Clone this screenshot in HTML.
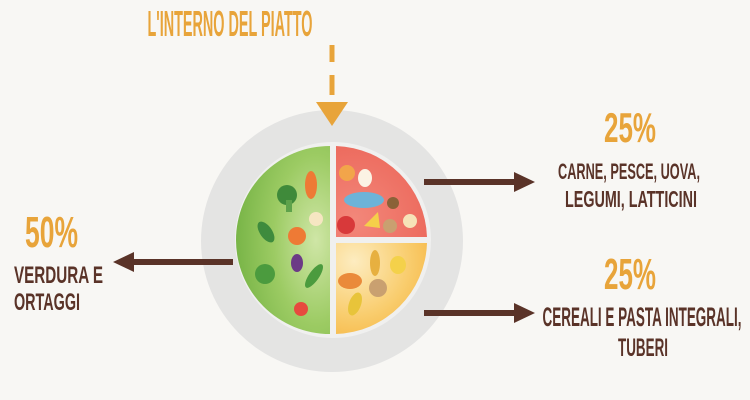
<!DOCTYPE html>
<html><head><meta charset="utf-8"><style>
html,body{margin:0;padding:0;background:#f8f7f4;}
svg{display:block}
text{font-family:"Liberation Sans Narrow","Liberation Sans",sans-serif;font-weight:bold;}
</style></head><body>
<svg width="750" height="400" viewBox="0 0 750 400" xmlns="http://www.w3.org/2000/svg">
<defs>
<radialGradient id="g" cx="0.85" cy="0.5" r="0.9"><stop offset="0" stop-color="#cfe6a6"/><stop offset="0.5" stop-color="#9ccb63"/><stop offset="1" stop-color="#74b244"/></radialGradient>
<radialGradient id="y" cx="0.2" cy="0.2" r="1"><stop offset="0" stop-color="#fdecc0"/><stop offset="0.6" stop-color="#f9cd6e"/><stop offset="1" stop-color="#f5b440"/></radialGradient>
<radialGradient id="r" cx="0.2" cy="0.8" r="1"><stop offset="0" stop-color="#f3877a"/><stop offset="1" stop-color="#eb6558"/></radialGradient>
</defs>
<text x="230" y="36" text-anchor="middle" font-size="36" fill="#e8a43a" textLength="165" lengthAdjust="spacingAndGlyphs">L'INTERNO DEL PIATTO</text>
<rect x="329.5" y="45" width="5" height="17" fill="#e8a43a"/>
<rect x="329.5" y="75" width="5" height="20" fill="#e8a43a"/>
<circle cx="332" cy="241" r="131" fill="#e4e4e3"/>
<polygon points="316,102 348,102 332,126" fill="#e8a43a"/>
<circle cx="333" cy="240" r="98" fill="#f0f0ef"/>
<path d="M330,146 A94,94 0 0 0 330,334 Z" fill="url(#g)"/>
<path d="M336,146 A94,94 0 0 1 427,237 L336,237 Z" fill="url(#r)"/>
<path d="M336,243 L427,243 A94,94 0 0 1 336,334 Z" fill="url(#y)"/>
<circle cx="287" cy="195" r="10" fill="#3f8a3a"/><rect x="286" y="200" width="6" height="12" fill="#5ea24b"/>
<ellipse cx="311" cy="185" rx="6" ry="14" fill="#ee7a35"/>
<ellipse cx="266" cy="232" rx="6" ry="12" fill="#3e8b3d" transform="rotate(-35 266 232)"/>
<circle cx="297" cy="236" r="9" fill="#ee7a35"/>
<circle cx="316" cy="219" r="7" fill="#f6e6c2"/>
<ellipse cx="297" cy="263" rx="6" ry="9" fill="#6c3a86"/>
<circle cx="265" cy="274" r="10" fill="#4b9b3e"/>
<ellipse cx="314" cy="276" rx="5" ry="14" fill="#4b9b3e" transform="rotate(35 314 276)"/>
<circle cx="301" cy="309" r="7" fill="#e64a3e"/>
<circle cx="347" cy="173" r="8" fill="#f2a54a"/>
<ellipse cx="365" cy="178" rx="7" ry="9" fill="#fbf3e4"/>
<ellipse cx="364" cy="200" rx="20" ry="8" fill="#6db3d8"/>
<circle cx="393" cy="203" r="6" fill="#8a6238"/>
<circle cx="346" cy="225" r="9" fill="#d8393a"/>
<polygon points="364,226 378,212 380,228" fill="#f5cf4a"/>
<circle cx="390" cy="226" r="7" fill="#c9a070"/>
<circle cx="410" cy="221" r="7" fill="#f6e3b8"/>
<ellipse cx="375" cy="263" rx="5" ry="13" fill="#e7b040"/>
<ellipse cx="398" cy="265" rx="8" ry="9" fill="#f4d14a"/>
<ellipse cx="350" cy="281" rx="12" ry="8" fill="#ea8a3a"/>
<circle cx="378" cy="288" r="9" fill="#c9a070"/>
<ellipse cx="355" cy="304" rx="6" ry="12" fill="#e8c43a" transform="rotate(20 355 304)"/>
<rect x="424" y="179" width="94" height="6" fill="#5a3328"/>
<polygon points="514,172 535,182 514,192" fill="#5a3328"/>
<rect x="424" y="310" width="94" height="6" fill="#5a3328"/>
<polygon points="514,303 535,313 514,323" fill="#5a3328"/>
<rect x="130" y="259" width="103" height="6" fill="#5a3328"/>
<polygon points="134,252 113,262 134,272" fill="#5a3328"/>
<text x="630" y="142" text-anchor="middle" font-size="42" fill="#e8a43a" textLength="52" lengthAdjust="spacingAndGlyphs">25%</text>
<text x="629" y="179" text-anchor="middle" font-size="22" fill="#5a3328" textLength="142" lengthAdjust="spacingAndGlyphs">CARNE, PESCE, UOVA,</text>
<text x="631" y="207" text-anchor="middle" font-size="23" fill="#5a3328" textLength="132" lengthAdjust="spacingAndGlyphs">LEGUMI, LATTICINI</text>
<text x="630" y="289" text-anchor="middle" font-size="44" fill="#e8a43a" textLength="52" lengthAdjust="spacingAndGlyphs">25%</text>
<text x="642" y="326" text-anchor="middle" font-size="27" fill="#5a3328" textLength="199" lengthAdjust="spacingAndGlyphs">CEREALI E PASTA INTEGRALI,</text>
<text x="643" y="356" text-anchor="middle" font-size="25" fill="#5a3328" textLength="50" lengthAdjust="spacingAndGlyphs">TUBERI</text>
<text x="25" y="247" font-size="44" fill="#e8a43a" textLength="53" lengthAdjust="spacingAndGlyphs">50%</text>
<text x="14" y="283" font-size="24" fill="#5a3328" textLength="89" lengthAdjust="spacingAndGlyphs">VERDURA E</text>
<text x="14" y="310" font-size="24" fill="#5a3328" textLength="66" lengthAdjust="spacingAndGlyphs">ORTAGGI</text>
</svg>
</body></html>
